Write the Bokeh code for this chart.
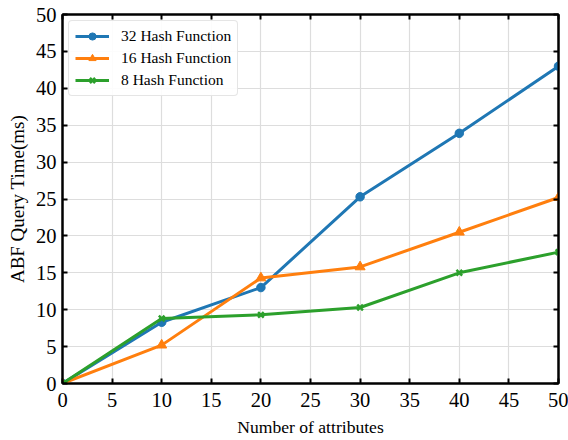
from bokeh.plotting import figure
from bokeh.models import LinearAxis, Range1d, Legend, LegendItem, FixedTicker
from bokeh.embed import file_html
from bokeh.resources import INLINE

x_vals = [0, 10, 20, 30, 40, 50]
h32 = [0, 8.3, 13.0, 25.3, 33.9, 43.0]
h16 = [0, 5.2, 14.3, 15.8, 20.5, 25.2]
h8 = [0, 8.8, 9.3, 10.3, 15.0, 17.8]
labels = ["32 Hash Function", "16 Hash Function", "8 Hash Function"]
ticks = [0, 5, 10, 15, 20, 25, 30, 35, 40, 45, 50]

FONT = "'Liberation Serif', 'Times New Roman', serif"

p = figure(width=568, height=440, output_backend="svg", toolbar_location=None,
           x_range=Range1d(0, 50), y_range=Range1d(0, 50),
           min_border_left=62, min_border_right=10, min_border_top=14, min_border_bottom=57)

def style_axis(ax, show_labels=True):
    ax.ticker = FixedTicker(ticks=ticks)
    ax.major_tick_in = 5
    ax.major_tick_out = 0
    ax.minor_tick_in = 0
    ax.minor_tick_out = 0
    ax.axis_line_width = 2
    ax.axis_line_color = "black"
    ax.major_tick_line_width = 2
    ax.major_tick_line_color = "black"
    ax.major_label_text_font = FONT
    ax.major_label_text_font_size = "20.5px"
    ax.major_label_text_color = "black"
    ax.major_label_standoff = 6
    ax.axis_label_text_font = FONT
    ax.axis_label_text_font_size = "17.6px"
    ax.axis_label_text_font_style = "normal"
    ax.axis_label_text_color = "black"
    if not show_labels:
        ax.major_label_text_font_size = "0px"
        ax.major_label_text_alpha = 0

style_axis(p.xaxis[0])
style_axis(p.yaxis[0])
p.xaxis[0].axis_label = "Number of attributes"
p.yaxis[0].axis_label = "ABF Query Time(ms)"
p.yaxis[0].axis_label_text_font_size = "19px"
p.xaxis[0].major_label_standoff = 9
p.yaxis[0].major_label_standoff = 6
p.xaxis[0].axis_label_standoff = 7
p.yaxis[0].axis_label_standoff = 5

top = LinearAxis()
right = LinearAxis()
style_axis(top, False)
style_axis(right, False)
top.major_label_standoff = 0
right.major_label_standoff = 0
p.add_layout(top, "above")
p.add_layout(right, "right")

p.xgrid.ticker = FixedTicker(ticks=ticks)
p.ygrid.ticker = FixedTicker(ticks=ticks)
p.grid.grid_line_color = "#dddddd"
p.grid.grid_line_width = 1.2
p.outline_line_color = "black"
p.outline_line_width = 2

colors = ["#1f77b4", "#ff7f0e", "#2ca02c"]
markers = ["circle", "triangle", "x"]
sizes = [8.5, 10, 8]
items = []
for ys, c, m, s, lab in zip([h32, h16, h8], colors, markers, sizes, labels):
    l = p.line(x_vals, ys, line_color=c, line_width=3)
    if m == "x":
        sc = p.scatter(x_vals, ys, marker=m, size=s, line_color=c, line_width=2.5)
    else:
        sc = p.scatter(x_vals, ys, marker=m, size=s, fill_color=c, line_color=c)
    items.append(LegendItem(label=lab, renderers=[l, sc]))

legend = Legend(items=items, location="top_left")
legend.label_text_font = FONT
legend.label_text_font_size = "15.5px"
legend.label_text_color = "black"
legend.border_line_color = "#cccccc"
legend.border_line_width = 1
legend.border_radius = 4
legend.background_fill_alpha = 0.9
legend.glyph_width = 34
legend.glyph_height = 18
legend.label_height = 18
legend.spacing = 4
legend.padding = 6
legend.margin = 6
legend.label_standoff = 12
p.add_layout(legend)

open("out.html", "w").write(file_html(p, INLINE))
